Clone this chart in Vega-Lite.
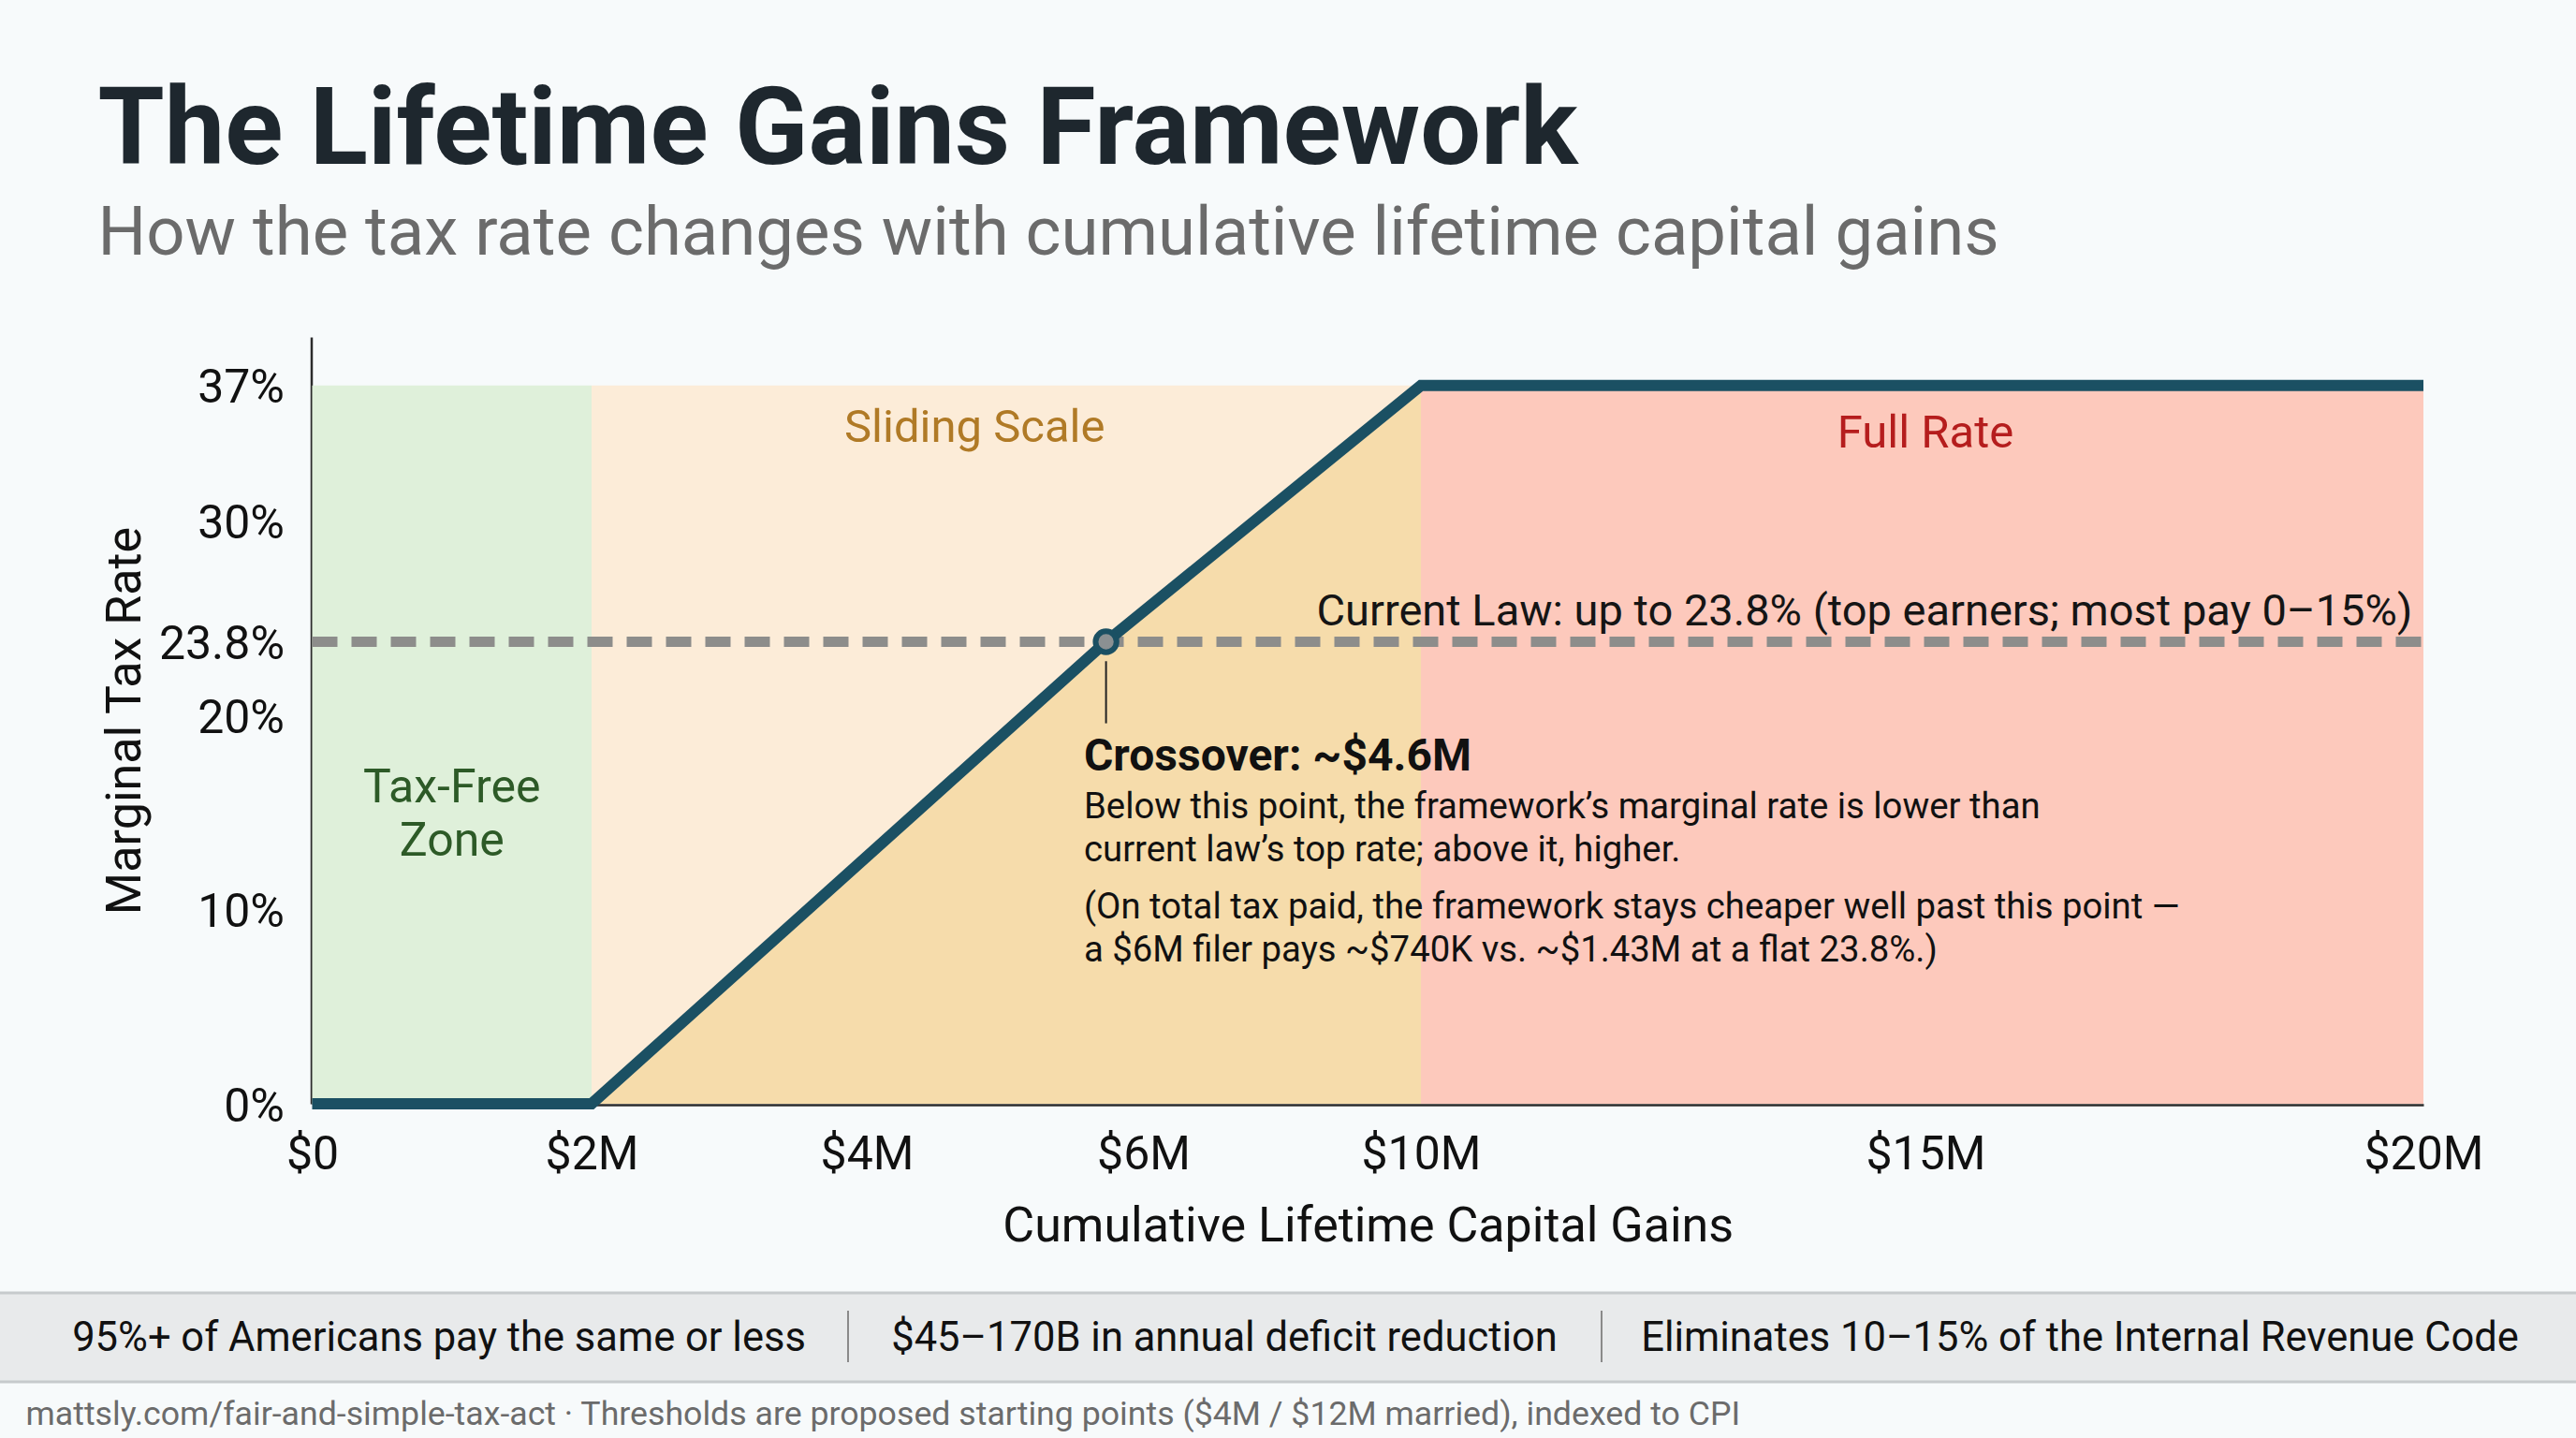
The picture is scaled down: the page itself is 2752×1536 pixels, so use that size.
{
  "$schema": "https://vega.github.io/schema/vega-lite/v6.json",
  "autosize": {"type": "none"},
  "padding": {"left": 333.5, "top": 360, "right": 162.5, "bottom": 357},
  "width": 2256,
  "height": 819,
  "background": "#f7fafb",
  "config": {
    "view": {"stroke": null},
    "font": "Roboto",
    "text": {"font": "Roboto"},
    "axis": {"labelFont": "Roboto", "titleFont": "Roboto", "grid": false, "ticks": false, "labelFlush": false, "labelOverlap": false}
  },
  "title": {
    "text": "The Lifetime Gains Framework",
    "subtitle": "How the tax rate changes with cumulative lifetime capital gains",
    "anchor": "start",
    "frame": "group",
    "orient": "top",
    "dx": -229,
    "offset": 73,
    "font": "Roboto",
    "fontSize": 115,
    "fontWeight": "bold",
    "color": "#1e272e",
    "subtitleFont": "Roboto",
    "subtitleFontSize": 72.5,
    "subtitleColor": "#6b6b6b",
    "subtitlePadding": 16
  },
  "resolve": {"scale": {"x": "independent", "y": "independent"}, "axis": {"x": "independent", "y": "independent"}},
  "layer": [
    {
      "layer": [
        {
          "data": {"values": [
            {"zone": "Tax-Free Zone", "gains": 0, "gains_end": 2, "rate": 0, "rate_top": 37},
            {"zone": "Sliding Scale", "gains": 2, "gains_end": 10, "rate": 0, "rate_top": 37},
            {"zone": "Full Rate", "gains": 10, "gains_end": 20, "rate": 0, "rate_top": 37}
          ]},
          "mark": {"type": "rect", "opacity": 1},
          "encoding": {
            "x": {"field": "gains", "type": "quantitative",
              "scale": {"domain": [0, 2, 4, 6, 10, 15, 20], "range": [0, 298.5, 592.5, 888, 1184.5, 1723.5, 2255.5], "nice": false, "zero": false},
              "axis": {"values": [0, 2, 4, 6, 10, 15, 20], "labelExpr": "datum.value == 0 ? '$0' : '$' + datum.value + 'M'", "title": "Cumulative Lifetime Capital Gains", "labelFontSize": 50, "labelColor": "#111111", "labelPadding": 28, "titleFontSize": 52, "titleFontWeight": "normal", "titleColor": "#111111", "titlePadding": 26, "domainColor": "#2b2b2b", "domainWidth": 2.5, "offset": 1}},
            "x2": {"field": "gains_end"},
            "y": {"field": "rate", "type": "quantitative",
              "scale": {"domain": [0, 39.5], "nice": false, "zero": false},
              "axis": {"values": [0, 10, 20, 23.8, 30, 37], "labelExpr": "datum.value + '%'", "title": "Marginal Tax Rate", "labelFontSize": 50, "labelColor": "#111111", "labelPadding": 29, "labelOffset": 3, "titleFontSize": 52, "titleFontWeight": "normal", "titleColor": "#111111", "titlePadding": 9, "domainColor": "#2b2b2b", "domainWidth": 2.5, "offset": 1}},
            "y2": {"field": "rate_top"},
            "color": {"field": "zone", "type": "nominal", "legend": null,
              "scale": {"domain": ["Tax-Free Zone", "Sliding Scale", "Full Rate"], "range": ["#dff0da", "#fcecd8", "#fdc9bc"]}}
          }
        },
        {
          "data": {"values": [
            {"gains": 0, "rate": 0}, {"gains": 2, "rate": 0}, {"gains": 5.73, "rate": 23.8}, {"gains": 10, "rate": 37}, {"gains": 20, "rate": 37}
          ]},
          "transform": [{"filter": "datum.gains >= 2 && datum.gains <= 10"}],
          "mark": {"type": "area", "color": "#f6dcab", "opacity": 1},
          "encoding": {
            "x": {"field": "gains", "type": "quantitative"},
            "y": {"field": "rate", "type": "quantitative"},
            "y2": {"datum": 0}
          }
        },
        {
          "data": {"values": [{"gains": 0, "gains_end": 20, "rate": 23.8}]},
          "mark": {"type": "rule", "color": "#8d8d8b", "strokeWidth": 11, "strokeDash": [27, 15]},
          "encoding": {
            "x": {"field": "gains", "type": "quantitative"},
            "x2": {"field": "gains_end"},
            "y": {"field": "rate", "type": "quantitative"}
          }
        },
        {
          "data": {"values": [
            {"gains": 0, "rate": 0}, {"gains": 2, "rate": 0}, {"gains": 5.73, "rate": 23.8}, {"gains": 10, "rate": 37}, {"gains": 20, "rate": 37}
          ]},
          "mark": {"type": "line", "color": "#1b5063", "strokeWidth": 12, "strokeJoin": "miter", "strokeCap": "butt"},
          "encoding": {
            "x": {"field": "gains", "type": "quantitative"},
            "y": {"field": "rate", "type": "quantitative"}
          }
        },
        {
          "data": {"values": [{"gains": 5.73, "rate": 22.8, "rate_end": 19.6}]},
          "mark": {"type": "rule", "color": "#222222", "strokeWidth": 2},
          "encoding": {
            "x": {"field": "gains", "type": "quantitative"},
            "y": {"field": "rate", "type": "quantitative"},
            "y2": {"field": "rate_end"}
          }
        },
        {
          "data": {"values": [{"gains": 5.73, "rate": 23.8}]},
          "mark": {"type": "point", "filled": true, "fill": "#8b9092", "stroke": "#1b5063", "strokeWidth": 6, "size": 500, "opacity": 1, "fillOpacity": 1, "strokeOpacity": 1},
          "encoding": {
            "x": {"field": "gains", "type": "quantitative"},
            "y": {"field": "rate", "type": "quantitative"}
          }
        },
        {
          "data": {"values": [{"label": ["Tax-Free", "Zone"], "gains": 1.0, "rate": 15.53}]},
          "mark": {"type": "text", "align": "center", "baseline": "alphabetic", "fontSize": 50, "lineHeight": 57, "color": "#2d5a27"},
          "encoding": {
            "x": {"field": "gains", "type": "quantitative"},
            "y": {"field": "rate", "type": "quantitative"},
            "text": {"field": "label"}
          }
        },
        {
          "data": {"values": [{"label": "Sliding Scale", "gains": 4.78, "rate": 34.1}]},
          "mark": {"type": "text", "align": "center", "baseline": "alphabetic", "fontSize": 49, "color": "#b07a26"},
          "encoding": {
            "x": {"field": "gains", "type": "quantitative"},
            "y": {"field": "rate", "type": "quantitative"},
            "text": {"field": "label"}
          }
        },
        {
          "data": {"values": [{"label": "Full Rate", "gains": 15.0, "rate": 33.81}]},
          "mark": {"type": "text", "align": "center", "baseline": "alphabetic", "fontSize": 49, "color": "#b51d1d"},
          "encoding": {
            "x": {"field": "gains", "type": "quantitative"},
            "y": {"field": "rate", "type": "quantitative"},
            "text": {"field": "label"}
          }
        },
        {
          "data": {"values": [{"label": "Current Law: up to 23.8% (top earners; most pay 0–15%)", "gains": 19.89, "rate": 24.65}]},
          "mark": {"type": "text", "align": "right", "baseline": "alphabetic", "fontSize": 47, "color": "#151515"},
          "encoding": {
            "x": {"field": "gains", "type": "quantitative"},
            "y": {"field": "rate", "type": "quantitative"},
            "text": {"field": "label"}
          }
        },
        {
          "data": {"values": [{"label": "Crossover: ~$4.6M", "gains": 5.57, "rate": 17.17}]},
          "mark": {"type": "text", "align": "left", "baseline": "alphabetic", "fontSize": 48, "fontWeight": "bold", "color": "#111111"},
          "encoding": {
            "x": {"field": "gains", "type": "quantitative"},
            "y": {"field": "rate", "type": "quantitative"},
            "text": {"field": "label"}
          }
        },
        {
          "data": {"values": [
            {"label": ["Below this point, the framework’s marginal rate is lower than", "current law’s top rate; above it, higher."], "gains": 5.57, "rate": 14.71},
            {"label": ["(On total tax paid, the framework stays cheaper well past this point —", "a $6M filer pays ~$740K vs. ~$1.43M at a flat 23.8%.)"], "gains": 5.57, "rate": 9.55}
          ]},
          "mark": {"type": "text", "align": "left", "baseline": "alphabetic", "fontSize": 38.3, "lineHeight": 46, "color": "#111111"},
          "encoding": {
            "x": {"field": "gains", "type": "quantitative"},
            "y": {"field": "rate", "type": "quantitative"},
            "text": {"field": "label"}
          }
        }
      ]
    },
    {
      "layer": [
        {
          "data": {"values": [{"slot": 0, "slot_end": 4}]},
          "mark": {"type": "rect", "color": "#e8eaeb"},
          "encoding": {
            "x": {"field": "slot", "type": "quantitative",
              "scale": {"domain": [0, 0.5, 1, 1.5, 2, 2.5, 3, 4], "range": [-333.5, -306, 135.5, 572.5, 974.5, 1377.5, 1888.5, 2418.5], "nice": false, "zero": false},
              "axis": null},
            "x2": {"field": "slot_end"},
            "y": {"datum": 0, "type": "quantitative", "scale": {"domain": [0, 1], "range": [1116, 1021], "nice": false, "zero": false}, "axis": null},
            "y2": {"datum": 1}
          }
        },
        {
          "data": {"values": [{"slot": 0, "slot_end": 4, "edge": 0}, {"slot": 0, "slot_end": 4, "edge": 1}]},
          "mark": {"type": "rule", "color": "#c6cacc", "strokeWidth": 3},
          "encoding": {
            "x": {"field": "slot", "type": "quantitative"},
            "x2": {"field": "slot_end"},
            "y": {"field": "edge", "type": "quantitative"}
          }
        },
        {
          "data": {"values": [{"slot": 1.5}, {"slot": 2.5}]},
          "mark": {"type": "rule", "color": "#8a8a8a", "strokeWidth": 2},
          "encoding": {
            "x": {"field": "slot", "type": "quantitative"},
            "y": {"datum": 0.22},
            "y2": {"datum": 0.8}
          }
        },
        {
          "data": {"values": [
            {"stat": "95%+ of Americans pay the same or less", "slot": 1},
            {"stat": "$45–170B in annual deficit reduction", "slot": 2},
            {"stat": "Eliminates 10–15% of the Internal Revenue Code", "slot": 3}
          ]},
          "mark": {"type": "text", "align": "center", "baseline": "alphabetic", "fontSize": 43.5, "color": "#111111"},
          "encoding": {
            "x": {"field": "slot", "type": "quantitative"},
            "y": {"datum": 0.347},
            "text": {"field": "stat"}
          }
        },
        {
          "data": {"values": [{"note": "mattsly.com/fair-and-simple-tax-act · Thresholds are proposed starting points ($4M / $12M married), indexed to CPI", "slot": 0.5}]},
          "mark": {"type": "text", "align": "left", "baseline": "alphabetic", "fontSize": 35.7, "color": "#6b6b6b"},
          "encoding": {
            "x": {"field": "slot", "type": "quantitative"},
            "y": {"datum": -0.48},
            "text": {"field": "note"}
          }
        }
      ]
    }
  ]
}
